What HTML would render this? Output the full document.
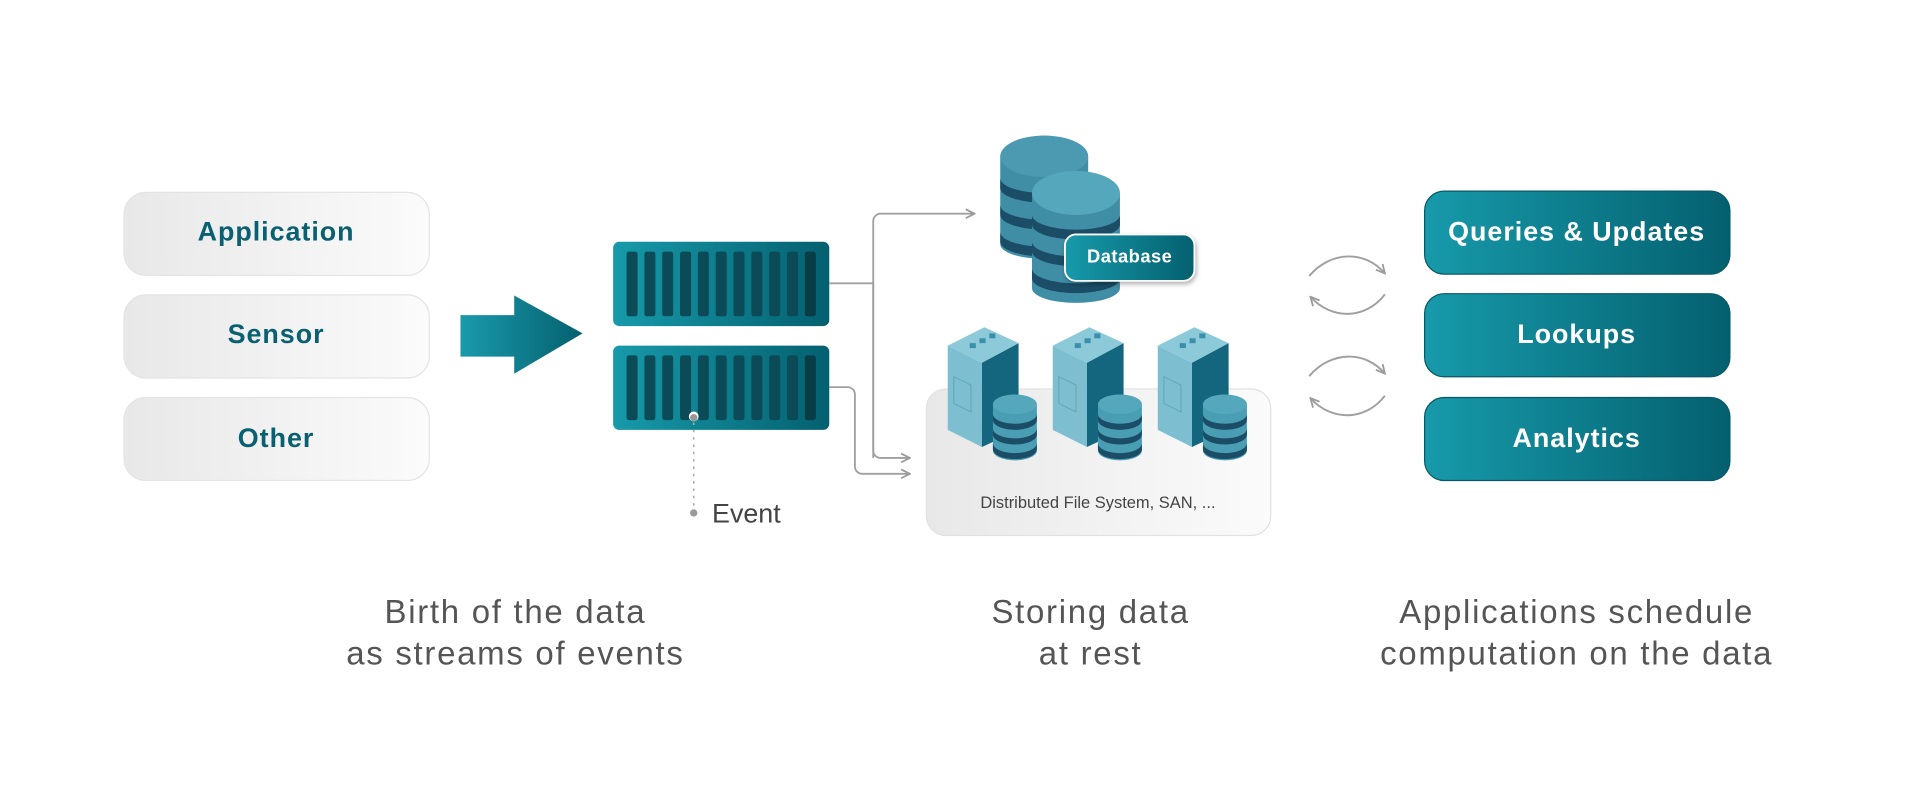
<!DOCTYPE html>
<html><head><meta charset="utf-8"><style>
html,body{margin:0;padding:0;background:#fff;}
svg{display:block;}
text{font-family:"Liberation Sans",sans-serif;}
</style></head><body>
<svg width="1915" height="806" viewBox="0 0 1568 660" xmlns="http://www.w3.org/2000/svg">
<defs>
<linearGradient id="gb" x1="0" x2="1" y1="0" y2="0"><stop offset="0" stop-color="#e8e8e8"/><stop offset="1" stop-color="#fbfbfb"/></linearGradient>
<linearGradient id="gt" x1="0" x2="1" y1="0" y2="0"><stop offset="0" stop-color="#1a9aab"/><stop offset="1" stop-color="#05606f"/></linearGradient>
<linearGradient id="gr" x1="0" x2="1" y1="0" y2="0"><stop offset="0" stop-color="#179aaa"/><stop offset="1" stop-color="#04606f"/></linearGradient>
<marker id="ah" viewBox="0 0 10 10" refX="9" refY="5" markerWidth="9" markerHeight="9" orient="auto" markerUnits="userSpaceOnUse"><path d="M1,1 L9,5 L1,9" fill="none" stroke="#9a9a9a" stroke-width="1.6"/></marker>
<g id="minidb">
<path d="M-18,0 v38 a18,8 0 0 0 36,0 v-38 z" fill="#4a9eb4"/>
<path d="M-18,8 a18,8 0 0 0 36,0 v5 a18,8 0 0 1 -36,0z" fill="#1b4d66"/>
<path d="M-18,20 a18,8 0 0 0 36,0 v5 a18,8 0 0 1 -36,0z" fill="#1b4d66"/>
<path d="M-18,32 a18,8 0 0 0 36,0 v5 a18,8 0 0 1 -36,0z" fill="#1b4d66"/>
<ellipse cx="0" cy="0" rx="18" ry="8" fill="#55a8bc"/>
</g>
<g id="server">
<polygon points="0,352 0,283 28,297 28,366" fill="#7dbfd1"/>
<polygon points="28,297 58,281 58,352 28,366" fill="#14657e"/>
<polygon points="0,283 30,268 58,281 28,297" fill="#8cc9d9"/>
<rect x="5" y="308" width="14" height="22" fill="none" stroke="#5ea6bb" stroke-width="0.8" transform="skewY(26) translate(0,-2)" />
<g fill="#3a8fab"><rect x="18" y="281" width="5" height="4"/><rect x="26" y="277" width="5" height="4"/><rect x="34" y="273" width="5" height="4"/></g>
<use href="#minidb" transform="translate(55,331)"/>
</g>
</defs>

<!-- left boxes -->
<rect x="101.5" y="157.5" width="250" height="68" rx="18" fill="url(#gb)" stroke="#e4e4e4"/>
<rect x="101.5" y="241.5" width="250" height="68" rx="18" fill="url(#gb)" stroke="#e4e4e4"/>
<rect x="101.5" y="325.5" width="250" height="68" rx="18" fill="url(#gb)" stroke="#e4e4e4"/>
<g fill="#0a6070" font-weight="bold" font-size="22" letter-spacing="0.8" text-anchor="middle">
<text x="226" y="197">Application</text>
<text x="226" y="281">Sensor</text>
<text x="226" y="366">Other</text>
</g>

<!-- big arrow -->
<polygon points="377,258 421,258 421,242 477,273 421,306 421,292 377,292" fill="url(#gt)"/>

<!-- racks -->
<rect x="502" y="198" width="177" height="69" rx="5" fill="url(#gr)"/>
<rect x="502" y="283" width="177" height="69" rx="5" fill="url(#gr)"/>
<g fill="#0b4a57">
<g id="barrow">
<rect x="513" y="206" width="9" height="53" rx="2"/>
<rect x="527.6" y="206" width="9" height="53" rx="2"/>
<rect x="542.2" y="206" width="9" height="53" rx="2"/>
<rect x="556.8" y="206" width="9" height="53" rx="2"/>
<rect x="571.4" y="206" width="9" height="53" rx="2"/>
<rect x="586" y="206" width="9" height="53" rx="2"/>
<rect x="600.6" y="206" width="9" height="53" rx="2"/>
<rect x="615.2" y="206" width="9" height="53" rx="2"/>
<rect x="629.8" y="206" width="9" height="53" rx="2"/>
<rect x="644.4" y="206" width="9" height="53" rx="2"/>
<rect x="659" y="206" width="9" height="53" rx="2" fill="#083c47"/>
</g>
<use href="#barrow" transform="translate(0,85)"/>
</g>

<!-- connectors -->
<g fill="none" stroke="#a0a0a0" stroke-width="1.5">
<path d="M679,232 H715"/>
<path d="M715,375 V181 a6,6 0 0 1 6,-6 H798" marker-end="url(#ah)"/>
<path d="M715,232 V369 a6,6 0 0 0 6,6 H745" marker-end="url(#ah)"/>
<path d="M679,317 H694 a6,6 0 0 1 6,6 V382 a6,6 0 0 0 6,6 H745" marker-end="url(#ah)"/>
</g>
<circle cx="568" cy="341" r="4" fill="#fff"/>
<circle cx="568" cy="342" r="3" fill="#999"/>
<line x1="568" y1="346" x2="568" y2="414" stroke="#aaa" stroke-width="1.3" stroke-dasharray="2,4"/>
<circle cx="568" cy="420" r="3" fill="#999"/>
<text x="583" y="428" font-size="22" fill="#444">Event</text>

<!-- database -->
<g>
<path d="M819,128 v72 a36,12 0 0 0 72,0 v-72z" fill="#3f8ea6"/>
<path d="M819,146 a36,12 0 0 0 72,0 v8 a36,12 0 0 1 -72,0z" fill="#1b4d66"/>
<path d="M819,168 a36,12 0 0 0 72,0 v8 a36,12 0 0 1 -72,0z" fill="#1b4d66"/>
<path d="M819,190 a36,12 0 0 0 72,0 v8 a36,12 0 0 1 -72,0z" fill="#1b4d66"/>
<ellipse cx="855" cy="128" rx="36" ry="17" fill="#4b9ab2"/>
<path d="M845,158 v78 a36,12 0 0 0 72,0 v-78z" fill="#3f8ea6"/>
<path d="M845,176 a36,12 0 0 0 72,0 v8 a36,12 0 0 1 -72,0z" fill="#1b4d66"/>
<path d="M845,198 a36,12 0 0 0 72,0 v8 a36,12 0 0 1 -72,0z" fill="#1b4d66"/>
<path d="M845,220 a36,12 0 0 0 72,0 v8 a36,12 0 0 1 -72,0z" fill="#1b4d66"/>
<ellipse cx="881" cy="158" rx="36" ry="18" fill="#55a7bc"/>
<rect x="872" y="192" width="106" height="38" rx="9" fill="url(#gr)" stroke="#fff" stroke-width="1.5" style="filter:drop-shadow(1px 2px 2px rgba(0,0,0,.3))"/>
<text x="925" y="215" font-size="15" font-weight="bold" letter-spacing="0.4" fill="#fff" text-anchor="middle">Database</text>
</g>

<!-- DFS -->
<rect x="758.5" y="318.5" width="282" height="120" rx="16" fill="url(#gb)" stroke="#e2e2e2"/>
<use href="#server" transform="translate(776,0)"/>
<use href="#server" transform="translate(862,0)"/>
<use href="#server" transform="translate(948,0)"/>
<text x="899" y="416" font-size="13.5" fill="#444" text-anchor="middle">Distributed File System, SAN, ...</text>

<!-- circular arrows -->
<g fill="none" stroke="#a0a0a0" stroke-width="1.6">
<path d="M1072,226 C1090,205 1118,205 1134,224" marker-end="url(#ah)"/>
<path d="M1134,241 C1118,262 1090,262 1073,243" marker-end="url(#ah)"/>
<path d="M1072,308 C1090,287 1118,287 1134,306" marker-end="url(#ah)"/>
<path d="M1134,324 C1118,345 1090,345 1073,326" marker-end="url(#ah)"/>
</g>

<!-- right boxes -->
<rect x="1166.5" y="156.5" width="250" height="68" rx="16" fill="url(#gr)" stroke="#0a5865"/>
<rect x="1166.5" y="240.5" width="250" height="68" rx="16" fill="url(#gr)" stroke="#0a5865"/>
<rect x="1166.5" y="325.5" width="250" height="68" rx="16" fill="url(#gr)" stroke="#0a5865"/>
<g fill="#fff" font-weight="bold" font-size="22" letter-spacing="0.8" text-anchor="middle">
<text x="1291" y="197">Queries &amp; Updates</text>
<text x="1291" y="281">Lookups</text>
<text x="1291" y="366">Analytics</text>
</g>

<!-- captions -->
<g fill="#555" font-size="27" letter-spacing="1.4" text-anchor="middle">
<text x="422" y="510">Birth of the data</text>
<text x="422" y="544">as streams of events</text>
<text x="893" y="510">Storing data</text>
<text x="893" y="544">at rest</text>
<text x="1291" y="510">Applications schedule</text>
<text x="1291" y="544">computation on the data</text>
</g>
</svg>
</body></html>
